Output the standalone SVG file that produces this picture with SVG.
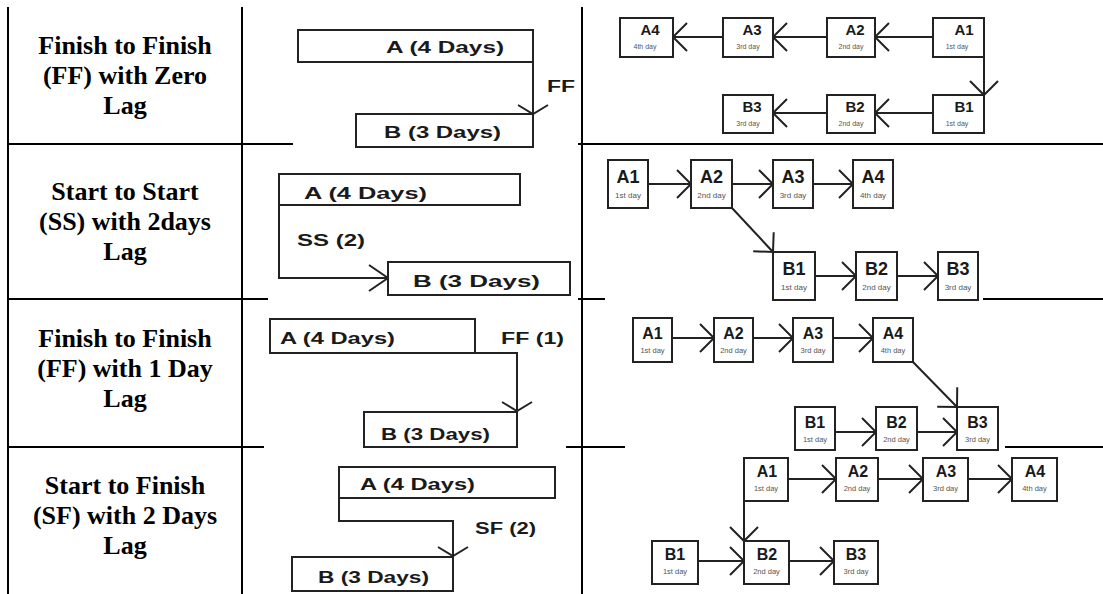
<svg xmlns="http://www.w3.org/2000/svg" width="1103" height="594" viewBox="0 0 1103 594">
<style>
.tbl{stroke:#000;stroke-width:2;fill:none}
.lab{font-family:"Liberation Serif","Times New Roman",serif;font-weight:bold;font-size:26px;text-anchor:middle;fill:#000}
.gbox{fill:#fff;stroke:#222;stroke-width:2}
.gt{font-family:"Liberation Sans",Arial,sans-serif;font-weight:bold;font-size:16px;fill:#1a1a1a}
.nbox{fill:#fff;stroke:#222;stroke-width:2}
.nb{font-family:"Liberation Sans",Arial,sans-serif;font-weight:bold;text-anchor:middle;fill:#1a1a1a}
.ns{font-family:"Liberation Sans",Arial,sans-serif;text-anchor:middle;fill:#555}
.r1b{font-size:15px}.r1s{font-size:7px}
.r2b{font-size:18px}.r2s{font-size:8px}
.r3b{font-size:16px}.r3s{font-size:7.5px}
.r4b{font-size:16px}.r4s{font-size:7.5px}
.c{stroke:#222;stroke-width:2;fill:none}
.cn{stroke:#222;stroke-width:2;fill:none;marker-end:url(#ah)}
</style>
<defs>
<marker id="ah" viewBox="-20 -20 24 40" refX="0" refY="0" markerWidth="24" markerHeight="40" markerUnits="userSpaceOnUse" orient="auto"><path d="M-14,-14 L0,0 L-14,14" fill="none" stroke="#222" stroke-width="2"/></marker>
<marker id="ahg" viewBox="-20 -20 24 40" refX="0" refY="0" markerWidth="24" markerHeight="40" markerUnits="userSpaceOnUse" orient="auto"><path d="M-9,-15 L0,0 L-9,15" fill="none" stroke="#222" stroke-width="2"/></marker>
<marker id="ahs" viewBox="-22 -20 26 40" refX="0" refY="0" markerWidth="26" markerHeight="40" markerUnits="userSpaceOnUse" orient="auto"><path d="M-19,-13 L0,0 L-19,13" fill="none" stroke="#222" stroke-width="2"/></marker>
</defs>

<g id="table">
<line class="tbl" x1="8" y1="7" x2="8" y2="594"/>
<line class="tbl" x1="242" y1="7" x2="242" y2="594"/>
<line class="tbl" x1="582" y1="7" x2="582" y2="594"/>
<line class="tbl" x1="8" y1="144" x2="293" y2="144"/>
<line class="tbl" x1="578" y1="144" x2="1103" y2="144"/>
<line class="tbl" x1="8" y1="299" x2="268" y2="299"/>
<line class="tbl" x1="578" y1="299" x2="605" y2="299"/>
<line class="tbl" x1="983" y1="299" x2="1103" y2="299"/>
<line class="tbl" x1="8" y1="447" x2="264" y2="447"/>
<line class="tbl" x1="566" y1="447" x2="625" y2="447"/>
<line class="tbl" x1="1005" y1="447" x2="1103" y2="447"/>
</g>

<g id="labels">
<text class="lab" x="125" y="54">Finish to Finish</text>
<text class="lab" x="125" y="84">(FF) with Zero</text>
<text class="lab" x="125" y="114">Lag</text>
<text class="lab" x="125" y="200">Start to Start</text>
<text class="lab" x="125" y="230">(SS) with 2days</text>
<text class="lab" x="125" y="260">Lag</text>
<text class="lab" x="125" y="347">Finish to Finish</text>
<text class="lab" x="125" y="377">(FF) with 1 Day</text>
<text class="lab" x="125" y="407">Lag</text>
<text class="lab" x="125" y="494">Start to Finish</text>
<text class="lab" x="125" y="524">(SF) with 2 Days</text>
<text class="lab" x="125" y="554">Lag</text>
</g>

<g id="connectors">
<line class="c" x1="533" y1="62" x2="533" y2="114" marker-end="url(#ahg)"/>
<polyline class="c" points="279,205 279,278 388,278" marker-end="url(#ahs)"/>
<polyline class="c" points="475,353 517,353 517,411" marker-end="url(#ahg)"/>
<polyline class="c" points="339,498 339,521 453,521 453,556" marker-end="url(#ahg)"/>

<line class="cn" x1="933" y1="37" x2="875" y2="37"/>
<line class="cn" x1="827" y1="37" x2="773" y2="37"/>
<line class="cn" x1="723" y1="37" x2="673" y2="37"/>
<line class="cn" x1="984" y1="57" x2="984" y2="95"/>
<line class="cn" x1="933" y1="113" x2="875" y2="113"/>
<line class="cn" x1="827" y1="113" x2="773" y2="113"/>

<line class="cn" x1="648" y1="184" x2="691" y2="184"/>
<line class="cn" x1="732" y1="184" x2="773" y2="184"/>
<line class="cn" x1="813" y1="184" x2="853" y2="184"/>
<line class="cn" x1="732" y1="208" x2="773" y2="252"/>
<line class="cn" x1="815" y1="276" x2="856" y2="276"/>
<line class="cn" x1="897" y1="276" x2="938" y2="276"/>

<line class="cn" x1="672" y1="338" x2="714" y2="338"/>
<line class="cn" x1="753" y1="338" x2="793" y2="338"/>
<line class="cn" x1="833" y1="338" x2="873" y2="338"/>
<line class="cn" x1="913" y1="362" x2="957" y2="407"/>
<line class="cn" x1="835" y1="432" x2="876" y2="432"/>
<line class="cn" x1="917" y1="432" x2="957" y2="432"/>

<line class="cn" x1="788" y1="479" x2="836" y2="479"/>
<line class="cn" x1="878" y1="479" x2="923" y2="479"/>
<line class="cn" x1="968" y1="479" x2="1012" y2="479"/>
<line class="cn" x1="744" y1="501" x2="744" y2="541"/>
<line class="cn" x1="698" y1="561" x2="744" y2="561"/>
<line class="cn" x1="789" y1="561" x2="834" y2="561"/>
</g>

<!-- Gantt row 1 -->
<g id="g1-A"><rect class="gbox" x="298" y="30" width="235" height="32"/><text class="gt" x="386" y="53" textLength="118" lengthAdjust="spacingAndGlyphs">A (4 Days)</text></g>
<g id="g1-B"><rect class="gbox" x="356" y="114" width="177" height="33"/><text class="gt" x="384" y="138" textLength="117" lengthAdjust="spacingAndGlyphs">B (3 Days)</text></g>
<g id="g1-lbl"><text class="gt" x="547" y="92" textLength="28" lengthAdjust="spacingAndGlyphs">FF</text></g>
<!-- Gantt row 2 -->
<g id="g2-A"><rect class="gbox" x="279" y="174" width="241" height="31"/><text class="gt" x="304" y="199" textLength="123" lengthAdjust="spacingAndGlyphs">A (4 Days)</text></g>
<g id="g2-B"><rect class="gbox" x="388" y="262" width="182" height="33"/><text class="gt" x="413" y="287" textLength="127" lengthAdjust="spacingAndGlyphs">B (3 Days)</text></g>
<g id="g2-lbl"><text class="gt" x="297" y="246" textLength="68" lengthAdjust="spacingAndGlyphs">SS (2)</text></g>
<!-- Gantt row 3 -->
<g id="g3-A"><rect class="gbox" x="270" y="319" width="205" height="34"/><text class="gt" x="280" y="344" textLength="115" lengthAdjust="spacingAndGlyphs">A (4 Days)</text></g>
<g id="g3-B"><rect class="gbox" x="364" y="412" width="153" height="35"/><text class="gt" x="381" y="440" textLength="109" lengthAdjust="spacingAndGlyphs">B (3 Days)</text></g>
<g id="g3-lbl"><text class="gt" x="501" y="344" textLength="63" lengthAdjust="spacingAndGlyphs">FF (1)</text></g>
<!-- Gantt row 4 -->
<g id="g4-A"><rect class="gbox" x="339" y="467" width="216" height="31"/><text class="gt" x="360" y="490" textLength="115" lengthAdjust="spacingAndGlyphs">A (4 Days)</text></g>
<g id="g4-B"><rect class="gbox" x="292" y="557" width="161" height="34"/><text class="gt" x="318" y="583" textLength="111" lengthAdjust="spacingAndGlyphs">B (3 Days)</text></g>
<g id="g4-lbl"><text class="gt" x="475" y="534" textLength="61" lengthAdjust="spacingAndGlyphs">SF (2)</text></g>

<!-- Network row 1 -->
<g id="n1-A4"><rect class="nbox" x="620" y="18" width="53" height="39"/><text class="nb r1b" x="650" y="35">A4</text><text class="ns r1s" x="645" y="49">4th day</text></g>
<g id="n1-A3"><rect class="nbox" x="723" y="18" width="50" height="39"/><text class="nb r1b" x="752" y="35">A3</text><text class="ns r1s" x="748" y="49">3rd day</text></g>
<g id="n1-A2"><rect class="nbox" x="827" y="18" width="48" height="39"/><text class="nb r1b" x="855" y="35">A2</text><text class="ns r1s" x="851" y="49">2nd day</text></g>
<g id="n1-A1"><rect class="nbox" x="933" y="18" width="51" height="39"/><text class="nb r1b" x="964" y="35">A1</text><text class="ns r1s" x="957" y="49">1st day</text></g>
<g id="n1-B3"><rect class="nbox" x="723" y="95" width="50" height="38"/><text class="nb r1b" x="752" y="112">B3</text><text class="ns r1s" x="748" y="126">3rd day</text></g>
<g id="n1-B2"><rect class="nbox" x="827" y="95" width="48" height="38"/><text class="nb r1b" x="855" y="112">B2</text><text class="ns r1s" x="851" y="126">2nd day</text></g>
<g id="n1-B1"><rect class="nbox" x="933" y="95" width="51" height="38"/><text class="nb r1b" x="964" y="112">B1</text><text class="ns r1s" x="957" y="126">1st day</text></g>

<!-- Network row 2 -->
<g id="n2-A1"><rect class="nbox" x="608" y="160" width="40" height="48"/><text class="nb r2b" x="628" y="183">A1</text><text class="ns r2s" x="628" y="198">1st day</text></g>
<g id="n2-A2"><rect class="nbox" x="691" y="160" width="41" height="48"/><text class="nb r2b" x="711.5" y="183">A2</text><text class="ns r2s" x="711.5" y="198">2nd day</text></g>
<g id="n2-A3"><rect class="nbox" x="773" y="160" width="40" height="48"/><text class="nb r2b" x="793" y="183">A3</text><text class="ns r2s" x="793" y="198">3rd day</text></g>
<g id="n2-A4"><rect class="nbox" x="853" y="160" width="40" height="48"/><text class="nb r2b" x="873" y="183">A4</text><text class="ns r2s" x="873" y="198">4th day</text></g>
<g id="n2-B1"><rect class="nbox" x="773" y="252" width="42" height="48"/><text class="nb r2b" x="794" y="275">B1</text><text class="ns r2s" x="794" y="290">1st day</text></g>
<g id="n2-B2"><rect class="nbox" x="856" y="252" width="41" height="48"/><text class="nb r2b" x="876.5" y="275">B2</text><text class="ns r2s" x="876.5" y="290">2nd day</text></g>
<g id="n2-B3"><rect class="nbox" x="938" y="252" width="40" height="48"/><text class="nb r2b" x="958" y="275">B3</text><text class="ns r2s" x="958" y="290">3rd day</text></g>

<!-- Network row 3 -->
<g id="n3-A1"><rect class="nbox" x="633" y="318" width="39" height="44"/><text class="nb r3b" x="652.5" y="339">A1</text><text class="ns r3s" x="652.5" y="353">1st day</text></g>
<g id="n3-A2"><rect class="nbox" x="714" y="318" width="39" height="44"/><text class="nb r3b" x="733.5" y="339">A2</text><text class="ns r3s" x="733.5" y="353">2nd day</text></g>
<g id="n3-A3"><rect class="nbox" x="793" y="318" width="40" height="44"/><text class="nb r3b" x="813" y="339">A3</text><text class="ns r3s" x="813" y="353">3rd day</text></g>
<g id="n3-A4"><rect class="nbox" x="873" y="318" width="40" height="44"/><text class="nb r3b" x="893" y="339">A4</text><text class="ns r3s" x="893" y="353">4th day</text></g>
<g id="n3-B1"><rect class="nbox" x="795" y="407" width="40" height="43"/><text class="nb r3b" x="815" y="428">B1</text><text class="ns r3s" x="815" y="442">1st day</text></g>
<g id="n3-B2"><rect class="nbox" x="876" y="407" width="41" height="43"/><text class="nb r3b" x="896.5" y="428">B2</text><text class="ns r3s" x="896.5" y="442">2nd day</text></g>
<g id="n3-B3"><rect class="nbox" x="957" y="407" width="41" height="43"/><text class="nb r3b" x="977.5" y="428">B3</text><text class="ns r3s" x="977.5" y="442">3rd day</text></g>

<!-- Network row 4 -->
<g id="n4-A1"><rect class="nbox" x="744" y="458" width="44" height="43"/><text class="nb r4b" x="767" y="477">A1</text><text class="ns r4s" x="766" y="491">1st day</text></g>
<g id="n4-A2"><rect class="nbox" x="836" y="458" width="42" height="43"/><text class="nb r4b" x="858" y="477">A2</text><text class="ns r4s" x="857" y="491">2nd day</text></g>
<g id="n4-A3"><rect class="nbox" x="923" y="458" width="45" height="43"/><text class="nb r4b" x="946" y="477">A3</text><text class="ns r4s" x="945.5" y="491">3rd day</text></g>
<g id="n4-A4"><rect class="nbox" x="1012" y="458" width="45" height="43"/><text class="nb r4b" x="1035" y="477">A4</text><text class="ns r4s" x="1034.5" y="491">4th day</text></g>
<g id="n4-B1"><rect class="nbox" x="652" y="541" width="46" height="43"/><text class="nb r4b" x="675" y="560">B1</text><text class="ns r4s" x="675" y="574">1st day</text></g>
<g id="n4-B2"><rect class="nbox" x="744" y="541" width="45" height="43"/><text class="nb r4b" x="767" y="560">B2</text><text class="ns r4s" x="766.5" y="574">2nd day</text></g>
<g id="n4-B3"><rect class="nbox" x="834" y="541" width="44" height="43"/><text class="nb r4b" x="856" y="560">B3</text><text class="ns r4s" x="856" y="574">3rd day</text></g>
</svg>
